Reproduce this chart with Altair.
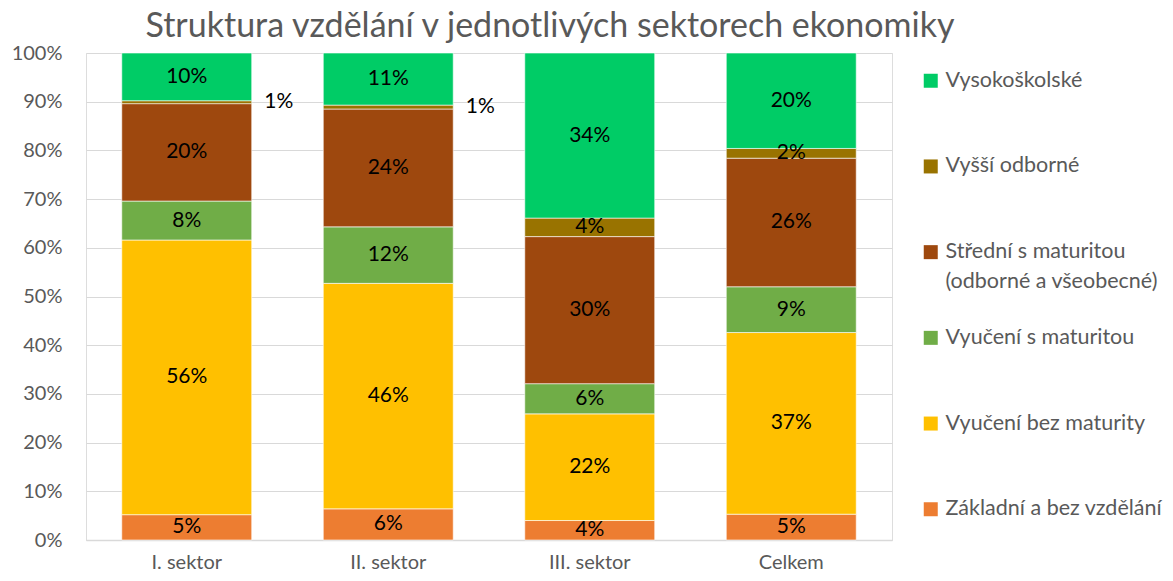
import altair as alt
import pandas as pd

sectors = ["I. sektor", "II. sektor", "III. sektor", "Celkem"]
# stack order from bottom to top
levels = ["Základní a bez vzdělání", "Vyučení bez maturity", "Vyučení s maturitou",
          "Střední s maturitou|(odborné a všeobecné)", "Vyšší odborné", "Vysokoškolské"]
colors = ["#ED7D31", "#FFC000", "#70AD47", "#9E480E", "#997300", "#00CC66"]

zakladni = [5.2, 6.4, 4.0, 5.3]
vyuceni_bez = [56.4, 46.3, 21.9, 37.3]
vyuceni_s = [8.0, 11.6, 6.2, 9.4]
stredni = [20.0, 24.2, 30.2, 26.4]
vyssi = [0.6, 0.8, 3.8, 2.0]
vysokoskolske = [9.8, 10.7, 33.9, 19.6]

series = [zakladni, vyuceni_bez, vyuceni_s, stredni, vyssi, vysokoskolske]
rows = []
for rank, (lvl, vals) in enumerate(zip(levels, series)):
    for s, v in zip(sectors, vals):
        rows.append({"sector": s, "level": lvl, "rank": rank, "pct": v})
df = pd.DataFrame(rows)

legend_order = levels[::-1]
legend_colors = colors[::-1]

FONT = "Lato"
GREY = "#595959"

base = alt.Chart(df).transform_calculate(share="datum.pct/100")

xenc = alt.X("sector:N", sort=sectors,
             scale=alt.Scale(paddingInner=0.355, paddingOuter=0.1775),
             axis=alt.Axis(title=None, labelAngle=0, labelFontSize=20, labelColor=GREY,
                           labelFont=FONT, domain=True, domainColor="#D9D9D9",
                           domainWidth=1.5, ticks=False, labelPadding=12, grid=False))

bars = base.mark_bar(stroke="white", strokeWidth=0.6).encode(
    x=xenc,
    y=alt.Y("share:Q", stack="zero", scale=alt.Scale(domain=[0, 1], nice=False),
            axis=alt.Axis(title=None, format=".0%", values=[i / 10 for i in range(11)],
                          labelFontSize=20, labelColor=GREY, labelFont=FONT,
                          grid=True, gridColor="#D9D9D9", gridWidth=1.2,
                          domain=False, ticks=False, labelPadding=24)),
    color=alt.Color("level:N",
                    scale=alt.Scale(domain=legend_order, range=legend_colors),
                    legend=alt.Legend(title=None, orient="none", legendX=834, legendY=17,
                                      direction="vertical", symbolType="square",
                                      symbolSize=196, symbolStrokeWidth=0,
                                      labelFontSize=21.5, labelFont=FONT, labelColor=GREY,
                                      labelLimit=400, rowPadding=32.7, padding=0,
                                      labelOffset=4,
                                      labelExpr="indexof(datum.label, '|') >= 0 ? split(datum.label, '|') : [datum.label, '']")),
    order=alt.Order("rank:Q", sort="ascending"),
)

stacked = base.transform_stack(
    stack="share", groupby=["sector"], as_=["y0", "y1"],
    sort=[alt.SortField("rank", order="ascending")],
).transform_calculate(
    mid="(datum.y0 + datum.y1) / 2",
    label="format(datum.share, '.0%')",
)

inside = stacked.transform_filter("datum.pct >= 1.5").mark_text(
    fontSize=21, font=FONT, color="black").encode(
    x=alt.X("sector:N", sort=sectors), y=alt.Y("mid:Q"), text="label:N")

outside = stacked.transform_filter("datum.pct < 1.5").mark_text(
    fontSize=21, font=FONT, color="black", dx=92).encode(
    x=alt.X("sector:N", sort=sectors), y=alt.Y("mid:Q"), text="label:N")

chart = alt.layer(bars, inside, outside).properties(
    width=806, height=487,
    title=alt.TitleParams("Struktura vzdělání v jednotlivých sektorech ekonomiky",
                          fontSize=34, font=FONT, color=GREY, fontWeight="normal",
                          anchor="middle", offset=-1, dx=61),
    padding={"left": 78, "top": 45, "right": 273, "bottom": 33},
    autosize=alt.AutoSizeParams(type="none"),
).configure_view(stroke=None).configure(style={"guide-label": {"lineHeight": 30}})

chart.save("out.html", embed_options={"renderer": "svg", "actions": False})
